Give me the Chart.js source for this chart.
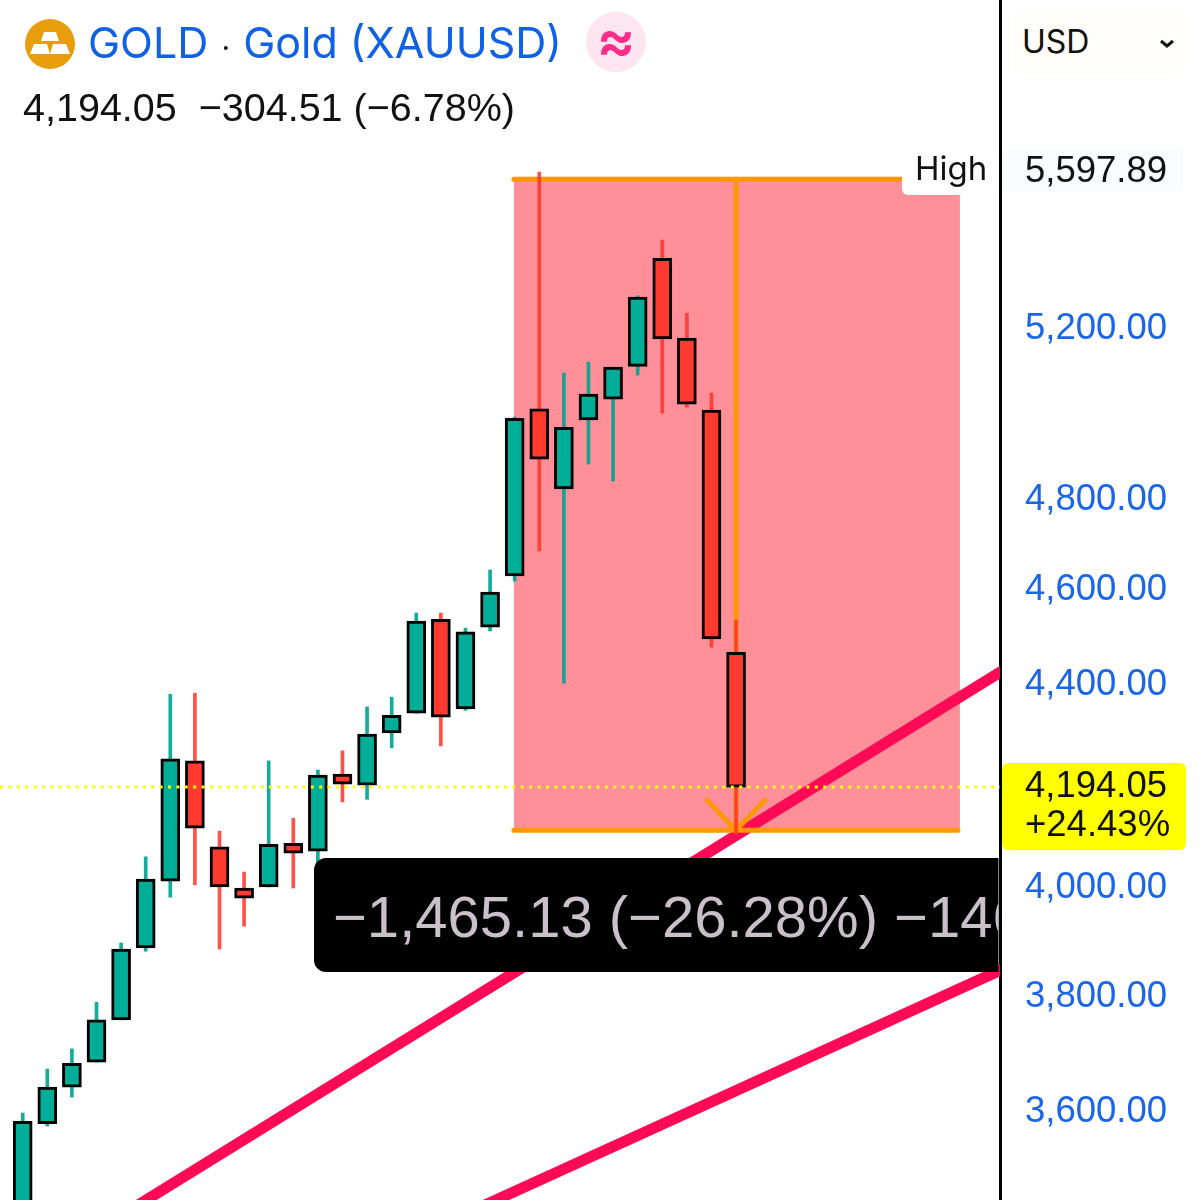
<!DOCTYPE html>
<html>
<head>
<meta charset="utf-8">
<title>GOLD</title>
<script src="https://cdn.jsdelivr.net/npm/chart.js@4"></script>
<style>
  html, body { margin: 0; background: #fff; }
  #wrap { position: relative; width: 1200px; height: 1200px; overflow: hidden; font-family: Inter, "Liberation Sans", sans-serif; }
  canvas { position: absolute; left: 0; top: 0; }
  .abs { position: absolute; white-space: nowrap; }
  #title { left: 88px; top: 15px; font-size: 43px; line-height: 54px; color: #0f62e6; }
  #title i { font-style: normal; color: #111; font-size: 30px; padding: 0 1px; }
  #quote { left: 23px; top: 85px; font-family: "Liberation Sans", sans-serif; font-size: 39.5px; line-height: 44px; color: #111; }
  #badge { left: 586px; top: 12px; width: 60px; height: 60px; border-radius: 50%; background: #fde6ef; color: #ff2d8a; font-size: 58px; font-weight: 600; line-height: 54px; text-align: center; }
  #ccy { left: 1012px; top: 8px; width: 176px; height: 68px; border-radius: 14px; background: #fffefb; }
  #ccy span { position: absolute; left: 10px; top: 12px; font-size: 32px; line-height: 44px; color: #111; }
</style>
</head>
<body>
<div id="wrap">
  <canvas id="chart" width="1200" height="1200"></canvas>
  <svg class="abs" style="left:24px;top:18px" width="52" height="52" viewBox="0 0 52 52">
    <circle cx="26" cy="26" r="25" fill="#e89e0c"/>
    <path d="M20 14h12l3 9H17zM10 26h13l3 10H6zM29 26h13l4 10H26z" fill="#fff"/>
  </svg>
  <div class="abs" id="title">GOLD <i>·</i> Gold (XAUUSD)</div>
  <div class="abs" id="badge">≈</div>
  <div class="abs" id="quote">4,194.05&nbsp; −304.51 (−6.78%)</div>
  <div class="abs" id="ccy"><span>USD</span>
    <svg class="abs" style="left:146px;top:30px" width="18" height="12" viewBox="0 0 18 12"><path d="M3 3l6 5 6-5" fill="none" stroke="#111" stroke-width="3"/></svg>
  </div>
</div>
<script>
// 캔들 값 (왼쪽부터)
const opens  = [3431,3581,3643,3686,3760,3889,4013,4246,4078,4000,4002,4085,4070,4220,4198,4302,4342,4538,4351,4521,4631,5009,4824,4983,5032,5110,5376,5178,5006,4468];
const highs  = [3599,3674,3709,3791,3898,4059,4381,4383,4108,4030,4246,4133,4228,4266,4355,4375,4551,4551,4519,4644,4990,5597.89,5094,5120,5108,5282,5422,5239,5046,4536];
const lows   = [3420,3577,3626,3686,3760,3883,3983,4006,3887,3929,4002,4000,4043,4165,4170,4272,4342,4276,4348,4513,4620,4686,4404,4881,4842,5089,4999,5013,4479,4101];
const closes = [3585,3643,3684,3760,3887,4017,4250,4114,4002,3981,4083,4066,4218,4200,4300,4338,4534,4334,4511,4596,4987,4892,4966,5044,5108,5279,5176,5020,4496,4194.05];

const tickValues = [3600, 3800, 4000, 4400, 4600, 4800, 5200, 5597.89];
const highPrice = 5597.89;
const lastPrice = 4194.05;

// 추세선, 측정 도구
const trendA   = [{x: 4.25, y: 3436}, {x: 40.95, y: 4465}];
const trendB   = [{x: 18.25, y: 3437}, {x: 40.95, y: 3873}];
const zoneFrom = 19.97, zoneTo = 38.1, zoneHigh = 5579, zoneLow = 4110;
const rangeTop    = [{x: 19.97, y: zoneHigh}, {x: 38.02, y: zoneHigh}];
const rangeBottom = [{x: 19.97, y: zoneLow}, {x: 38.02, y: zoneLow}];
const rangeStem   = [{x: 29, y: zoneHigh}, {x: 29, y: zoneLow}];
const arrowHead   = [{x: 27.82, y: 4168.5}, {x: 29, y: zoneLow}, {x: 30.18, y: 4168.5}];

const xMin = -0.923, xMax = 39.73, yMin = 3455, yMax = 6069;

const GREEN = "#00ad97", RED = "#ff3b30";
const LABEL_FONT = '"Liberation Sans", sans-serif';
const isUp = i => closes[i] >= opens[i];

const wicks  = opens.map((_, i) => ({ x: i, y: [lows[i], highs[i]] }));
const bodies = opens.map((_, i) => ({ x: i, y: [opens[i], closes[i]] }));

function lineSet(data, color, width, order, extra) {
  return Object.assign({
    type: "line", data, borderColor: color, borderWidth: width, order,
    pointRadius: 0, tension: 0, fill: false, clip: 0, borderCapStyle: "round", borderJoinStyle: "miter",
  }, extra);
}

function roundBox(ctx, x, y, w, h, r, color) {
  ctx.fillStyle = color;
  ctx.beginPath();
  ctx.roundRect(x, y, w, h, r);
  ctx.fill();
}

// ── 영역, 라벨 ──────────────────────────────────────
const overlays = {
  id: "overlays",
  beforeDraw(chart) {
    const { ctx, scales: { y } } = chart;
    roundBox(ctx, 1005, y.getPixelForValue(highPrice) - 23, 178, 44, 4, "#fafdfe");
  },
  beforeDatasetsDraw(chart) {
    const { ctx, scales: { x, y } } = chart;
    ctx.save();
    ctx.fillStyle = "#ff8f98";
    ctx.fillRect(x.getPixelForValue(zoneFrom), y.getPixelForValue(zoneHigh),
      x.getPixelForValue(zoneTo) - x.getPixelForValue(zoneFrom),
      y.getPixelForValue(zoneLow) - y.getPixelForValue(zoneHigh));
    ctx.restore();
  },
  afterDatasetsDraw(chart) {
    const { ctx, scales: { y } } = chart;
    ctx.save();
    ctx.textBaseline = "middle";

    // High
    const hy = y.getPixelForValue(highPrice);
    roundBox(ctx, 902, hy - 22, 96.5, 45, [0, 0, 0, 6], "#ffffff");
    ctx.fillStyle = "#111";
    ctx.font = "33px Inter, sans-serif";
    ctx.fillText("High", 915, hy - 2);

    // 현재가
    const py = y.getPixelForValue(lastPrice);
    roundBox(ctx, 1002, py - 24, 184, 87, 6, "#ffff00");
    ctx.fillStyle = "#111";
    ctx.font = `36.5px ${LABEL_FONT}`;
    ctx.fillText("4,194.05", 1025, py);
    ctx.fillText("+24.43%", 1025, py + 39);

    // 측정 라벨
    ctx.beginPath();
    ctx.rect(0, 0, 998.5, 1200);
    ctx.clip();
    roundBox(ctx, 314, 858, 700, 114, 12, "#000000");
    ctx.fillStyle = "#c9c0c9";
    ctx.font = `58px ${LABEL_FONT}`;
    ctx.fillText("−1,465.13 (−26.28%) −146", 333, 921);
    ctx.restore();
  },
};

new Chart(document.getElementById("chart"), {
  type: "bar",
  plugins: [overlays],
  data: {
    datasets: [
      lineSet([{ x: xMin, y: lastPrice }, { x: xMax, y: lastPrice }], "#ffff00", 3, 0, { borderDash: [3, 5.4], borderCapStyle: "butt" }),
      { data: bodies, order: 1, grouped: false, barThickness: 19, borderWidth: 3, borderColor: "#000", borderSkipped: false,
        backgroundColor: c => isUp(c.dataIndex) ? GREEN : RED },
      { data: wicks, order: 2, grouped: false, barThickness: 3, borderWidth: 0,
        backgroundColor: c => isUp(c.dataIndex) ? "rgba(0,165,145,0.92)" : "rgba(255,50,40,0.85)" },
      lineSet(arrowHead, "#ff9800", 5, 3),
      lineSet(rangeStem, "#ff9800", 5, 3),
      lineSet(rangeTop, "#ff9800", 5, 3),
      lineSet(rangeBottom, "#ff9800", 5, 3),
      lineSet(trendA, "#ff0a54", 11, 4, { borderCapStyle: "butt" }),
      lineSet(trendB, "#ff0a54", 11, 4, { borderCapStyle: "butt" }),
    ],
  },
  options: {
    responsive: false,
    animation: false,
    events: [],
    layout: { padding: 0 },
    plugins: { legend: { display: false }, tooltip: { enabled: false } },
    scales: {
      x: { type: "linear", display: false, offset: false, min: xMin, max: xMax },
      y: {
        type: "logarithmic",
        position: "right",
        min: yMin,
        max: yMax,
        grid: { display: false, drawTicks: false },
        border: { display: true, color: "#000", width: 3 },
        afterBuildTicks(scale) { scale.ticks = tickValues.map(value => ({ value })); },
        afterFit(scale) {
          scale.width = 200;
          scale.paddingTop = scale.paddingBottom = scale.paddingLeft = scale.paddingRight = 0;
        },
        ticks: {
          autoSkip: false,
          maxRotation: 0,
          padding: 25,
          crossAlign: "near",
          font: { family: LABEL_FONT, size: 36.5 },
          color: c => c.tick && c.tick.value === highPrice ? "#111" : "#1a66e8",
          callback: v => Number(v).toLocaleString("en-US", { minimumFractionDigits: 2, maximumFractionDigits: 2 }),
        },
      },
    },
  },
});
</script>
</body>
</html>
